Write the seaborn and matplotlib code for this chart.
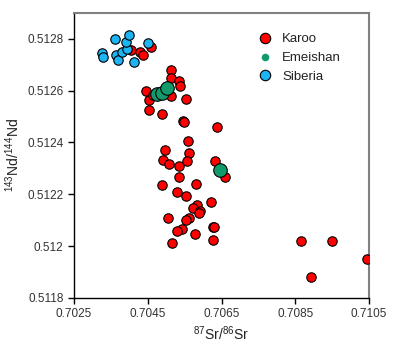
import matplotlib
matplotlib.use("Agg")
import matplotlib.pyplot as plt
from matplotlib.lines import Line2D
from matplotlib.ticker import FuncFormatter
import seaborn as sns
import pandas as pd

# 87Sr/86Sr and 143Nd/144Nd for each large igneous province
karoo_sr = [0.70405, 0.70430, 0.70438, 0.70460, 0.70514, 0.70512, 0.70534, 0.70537,
            0.70446, 0.70454, 0.70465, 0.70513, 0.70554, 0.70454, 0.70489, 0.70545,
            0.70548, 0.70638, 0.70560, 0.70496, 0.70563, 0.70492, 0.70507, 0.70536,
            0.70556, 0.70633, 0.70660, 0.70535, 0.70489, 0.70580, 0.70528, 0.70553,
            0.70622, 0.70583, 0.70572, 0.70591, 0.70590, 0.70506, 0.70562, 0.70554,
            0.70628, 0.70630, 0.70542, 0.70529, 0.70578, 0.70626, 0.70517, 0.70866,
            0.70949, 0.70893, 0.71044]
karoo_nd = [0.512758, 0.512747, 0.512738, 0.512769, 0.512680, 0.512649, 0.512638, 0.512618,
            0.512597, 0.512564, 0.512581, 0.512580, 0.512569, 0.512523, 0.512510, 0.512481,
            0.512478, 0.512458, 0.512404, 0.512369, 0.512359, 0.512331, 0.512317, 0.512308,
            0.512330, 0.512330, 0.512267, 0.512268, 0.512236, 0.512238, 0.512209, 0.512192,
            0.512169, 0.512158, 0.512148, 0.512137, 0.512128, 0.512110, 0.512110, 0.512099,
            0.512072, 0.512075, 0.512065, 0.512057, 0.512046, 0.512023, 0.512010, 0.512019,
            0.512019, 0.511880, 0.511949]

emeishan_sr = [0.70476, 0.70489, 0.70501, 0.70647]
emeishan_nd = [0.512587, 0.512592, 0.512610, 0.512292]

siberia_sr = [0.70325, 0.70328, 0.70361, 0.70364, 0.70370, 0.70380, 0.70393, 0.70391,
              0.70399, 0.70413, 0.70450]
siberia_nd = [0.512745, 0.512728, 0.512799, 0.512738, 0.512718, 0.512747, 0.512760, 0.512786,
              0.512814, 0.512710, 0.512783]

x_ticks = [0.7025, 0.7045, 0.7065, 0.7085, 0.7105]
y_ticks = [0.5118, 0.512, 0.5122, 0.5124, 0.5126, 0.5128]

groups = ["Karoo", "Emeishan", "Siberia"]
colors = {"Karoo": "#ff0000", "Emeishan": "#139a6b", "Siberia": "#1cb4f2"}
sizes = {"Karoo": 46, "Emeishan": 95, "Siberia": 46}

df = pd.concat([
    pd.DataFrame({"sr": karoo_sr, "nd": karoo_nd, "group": "Karoo"}),
    pd.DataFrame({"sr": siberia_sr, "nd": siberia_nd, "group": "Siberia"}),
    pd.DataFrame({"sr": emeishan_sr, "nd": emeishan_nd, "group": "Emeishan"}),
], ignore_index=True)

sns.set_style("ticks")
plt.rcParams["font.family"] = ["Liberation Sans", "DejaVu Sans"]
plt.rcParams["mathtext.fontset"] = "custom"
plt.rcParams["mathtext.rm"] = "Liberation Sans"
plt.rcParams["mathtext.it"] = "Liberation Sans"

fig = plt.figure(figsize=(4.0, 3.44), dpi=100)
ax = fig.add_axes([0.185, 0.134, 0.7375, 0.829])

for g in ["Karoo", "Siberia", "Emeishan"]:
    sub = df[df["group"] == g]
    sns.scatterplot(data=sub, x="sr", y="nd", ax=ax, color=colors[g], s=sizes[g],
                    edgecolor="black", linewidth=0.8, legend=False, zorder=3)

ax.set_xlim(0.7025, 0.7105)
ax.set_ylim(0.5118, 0.5129)
ax.set_xticks(x_ticks)
ax.set_yticks(y_ticks)
ax.xaxis.set_major_formatter(FuncFormatter(lambda v, p: f"{v:.4f}"))
ax.yaxis.set_major_formatter(FuncFormatter(lambda v, p: f"{v:g}"))
ax.tick_params(axis="both", labelsize=8.5, direction="out", length=4, width=1,
               colors="black", labelcolor="#333333")

for side in ["top", "right"]:
    ax.spines[side].set_color("#808080")
    ax.spines[side].set_linewidth(1.5)
for side in ["left", "bottom"]:
    ax.spines[side].set_color("black")
    ax.spines[side].set_linewidth(1.0)

ax.set_xlabel("$^{87}$Sr/$^{86}$Sr", fontsize=10, labelpad=3, color="#222222")
ax.set_ylabel("$^{143}$Nd/$^{144}$Nd", fontsize=10, labelpad=4, color="#222222")

handles = [
    Line2D([], [], ls="none", marker="o", markersize=7.5, markerfacecolor=colors["Karoo"],
           markeredgecolor="black", markeredgewidth=0.8),
    Line2D([], [], ls="none", marker="o", markersize=5.5, markerfacecolor=colors["Emeishan"],
           markeredgecolor=colors["Emeishan"], markeredgewidth=0),
    Line2D([], [], ls="none", marker="o", markersize=7.5, markerfacecolor=colors["Siberia"],
           markeredgecolor="black", markeredgewidth=0.8),
]
leg = ax.legend(handles, groups, loc="upper left", bbox_to_anchor=(0.58, 0.97), frameon=False,
                fontsize=9.5, handletextpad=0.7, labelspacing=0.5, handlelength=1.2)
for t in leg.get_texts():
    t.set_color("#222222")

fig.savefig("out.png", dpi=100)
